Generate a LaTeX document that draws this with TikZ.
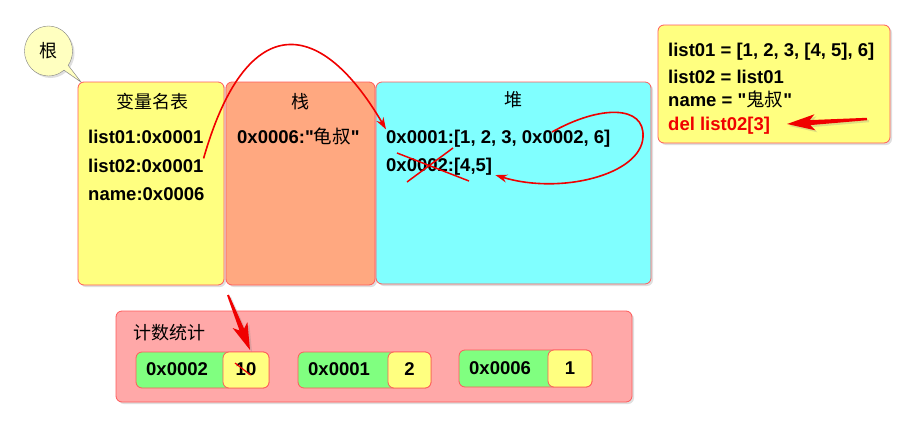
\documentclass[tikz,border=0pt]{standalone}
\usepackage{fontspec}
\setmainfont{Liberation Sans}
\newfontfamily\cjk{Noto Sans CJK SC}
\usetikzlibrary{shadows,shapes.callouts,arrows.meta}
\definecolor{ylw}{RGB}{255,255,128}
\definecolor{org}{RGB}{255,168,128}
\definecolor{cyn}{RGB}{128,255,255}
\definecolor{pnk}{RGB}{255,168,168}
\definecolor{grn}{RGB}{128,255,128}
\definecolor{boxred}{RGB}{255,90,90}
\definecolor{bub}{RGB}{255,255,192}
\definecolor{arrred}{RGB}{240,0,0}
\newcommand\dqt{\XeTeXglyph\XeTeXcharglyph"22\relax}
\begin{document}
\begin{tikzpicture}[x=1pt,y=-1pt,
  box/.style={draw=boxred, rounded corners=6pt, line width=0.8pt, inner sep=0pt, outer sep=0pt, anchor=north west},
  shad/.style={drop shadow={opacity=0.25, shadow xshift=2pt, shadow yshift=-2pt}},
  btxt/.style={font=\bfseries\fontsize{18.5}{22}\selectfont, inner sep=0pt, anchor=base west},
  ttl/.style={font=\cjk\fontsize{18}{20}\selectfont, inner sep=0pt},
  redarr/.style={draw=arrred, line width=1.6pt, -{Stealth[length=12pt,width=8pt]}},
  redln/.style={draw=arrred, line width=1.5pt}
]
\useasboundingbox (0,0) rectangle (902,423);

% root bubble
\node[ellipse callout, draw=gray, fill=bub, minimum width=48, minimum height=50,
  callout absolute pointer={(81,82)}, font=\cjk\fontsize{18}{20}\selectfont, shad] (root) at (48.5,51) {根};

% main boxes
\node[box, shad, fill=ylw, minimum width=146, minimum height=203] (vt) at (78,82) {};
\node[box, shad, fill=org, minimum width=149, minimum height=203] (st) at (226,82) {};
\node[box, shad, fill=cyn, minimum width=275, minimum height=202] (hp) at (376,82) {};
\node[box, shad, fill=ylw, minimum width=232, minimum height=118] (code) at (658,25) {};
\node[box, shad, fill=pnk, minimum width=516, minimum height=91] (cnt) at (116,311) {};

% titles
\node[ttl] (t1) at (152,102) {变量名表};
\node[ttl] (t2) at (300,102) {栈};
\node[ttl] (t3) at (513,100) {堆};
\node[ttl, anchor=west] (ct) at (133,333) {计数统计};

% variable table
\node[btxt] (l1) at (88,143) {list01:0x0001};
\node[btxt] (l2) at (88,172) {list02:0x0001};
\node[btxt] (l3) at (88,200) {name:0x0006};
% stack
\node[btxt] (s1) at (237,143) {0x0006:\dqt{\cjk\mdseries 龟叔}\dqt};
% heap
\node[btxt] (h1) at (386,143) {0x0001:[1, 2, 3, 0x0002, 6]};
\node[btxt] (h2) at (386,171) {0x0002:[4,5]};
% code
\node[btxt] (c1) at (668,56) {list01 = [1, 2, 3, [4, 5], 6]};
\node[btxt] (c2) at (668,83) {list02 = list01};
\node[btxt] (c3) at (668,106) {name = \dqt{\cjk\mdseries 鬼叔}\dqt};
\node[btxt, text=arrred] (c4) at (668,130) {del list02[3]};

% counters
\node[box, fill=grn, minimum width=133, minimum height=36] (g1) at (136,352) {};
\node[box, fill=ylw, minimum width=46, minimum height=36] (y1) at (223,352) {};
\node[box, fill=grn, minimum width=133, minimum height=36] (g2) at (298,352) {};
\node[box, fill=ylw, minimum width=43, minimum height=36] (y2) at (388,352) {};
\node[box, fill=grn, minimum width=133, minimum height=37] (g3) at (459,350) {};
\node[box, fill=ylw, minimum width=44, minimum height=37] (y3) at (548,350) {};
\node[btxt] (p1a) at (146,375) {0x0002};
\node[btxt, anchor=base] (p1b) at (246,375) {10};
\node[btxt] (p2a) at (308,375) {0x0001};
\node[btxt, anchor=base] (p2b) at (409.5,375) {2};
\node[btxt] (p3a) at (469,374) {0x0006};
\node[btxt, anchor=base] (p3b) at (570,374) {1};

% reference arrow list02 -> heap
\draw[redarr] (l2.north east) .. controls (245,13) and (318,13) .. (h1.north west);
% loop arrow in heap
\coordinate (ls) at (552,132);
\draw[redarr] (ls) .. controls (600,105) and (645,105) .. (643,137)
  .. controls (641,175) and (560,195) .. ([xshift=3pt]h2.south east);
% cross over 0x0002
\coordinate (x1a) at (397,153); \coordinate (x1b) at (469,181);
\coordinate (x2a) at (453,148); \coordinate (x2b) at (407,182);
\draw[redln] (x1a) -- (x1b);
\draw[redln] (x2a) -- (x2b);
% strike through the 1
\coordinate (k1) at (235,363); \coordinate (k2) at (250.5,375);
\draw[redln, line width=1.2pt] (k1) -- (k2);

% tapered arrow to del
\fill[arrred, shad] (787,124) -- (815.4,130.3) -- (810.2,125.1) -- (867.1,120.2)
  -- (866.9,117.8) -- (809.8,120.1) -- (814.4,114.3) -- cycle;
% tapered arrow to counter
\fill[arrred, shad] (250,350) -- (247.4,322) -- (244.1,328.7) -- (228.9,294.6)
  -- (227.1,295.4) -- (239.5,330.5) -- (232.6,328) -- cycle;
\end{tikzpicture}
\end{document}
